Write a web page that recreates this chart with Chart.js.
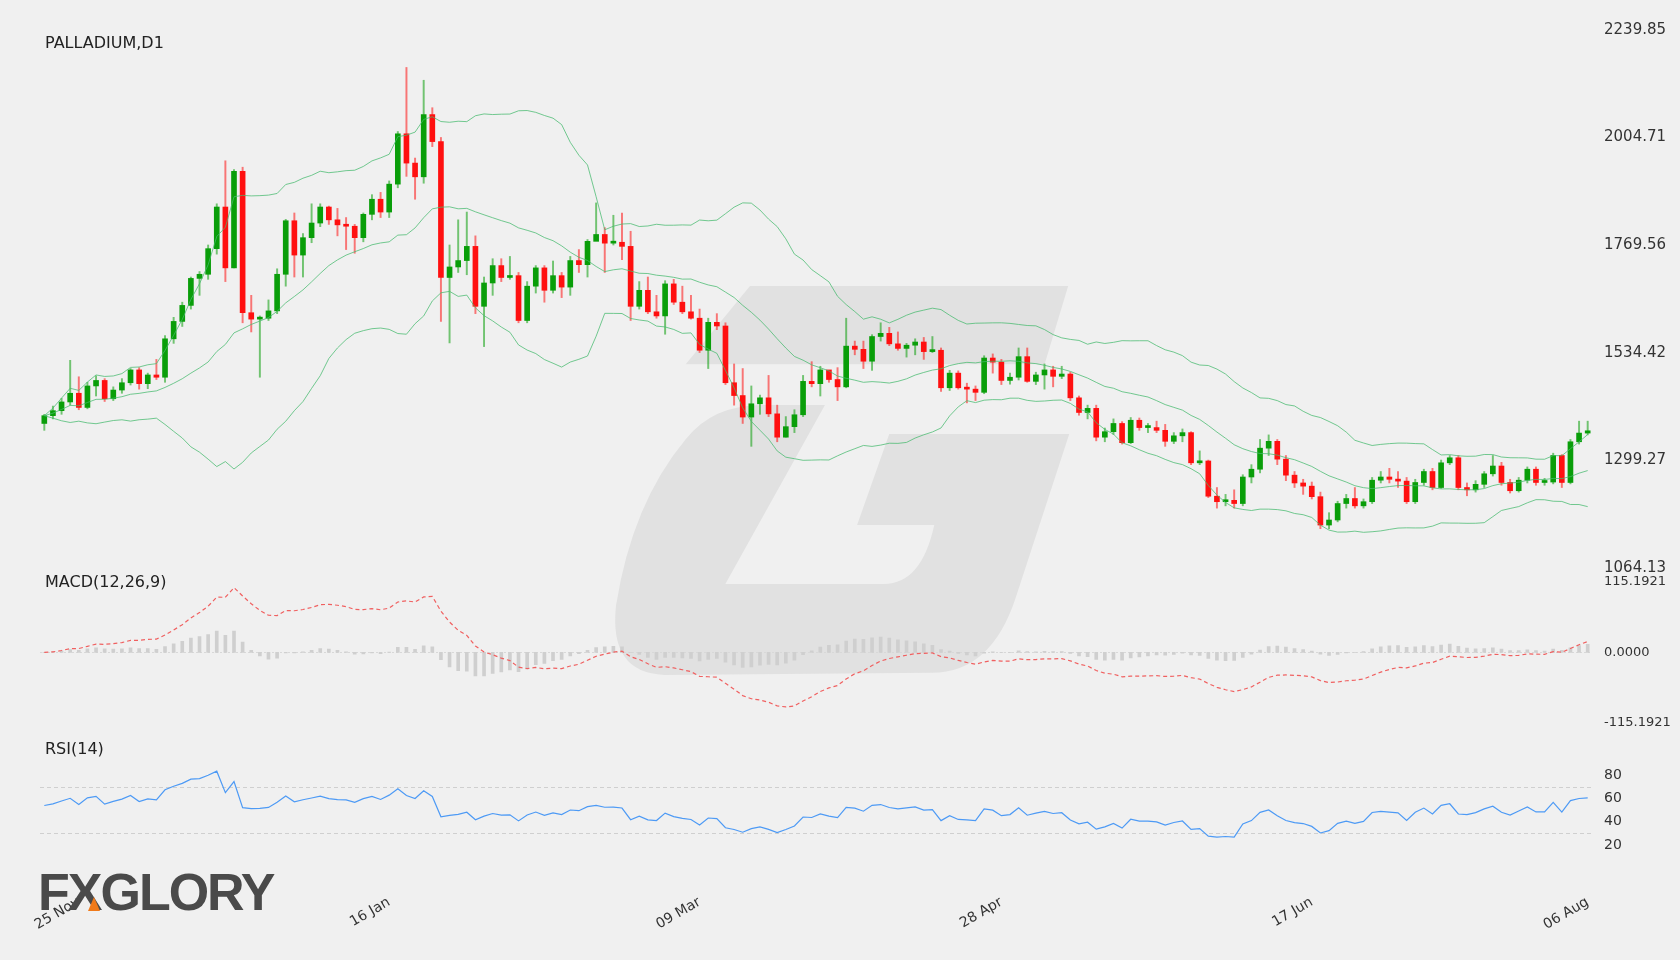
<!DOCTYPE html>
<html><head><meta charset="utf-8">
<script src="https://cdn.jsdelivr.net/npm/chart.js@4.4.1/dist/chart.umd.min.js"></script>
<style>
body{margin:0;background:#f0f0f0;width:1680px;height:960px;overflow:hidden;position:relative;font-family:"DejaVu Sans",sans-serif}
canvas{position:absolute;left:0}
.lbl{position:absolute;left:45px;font-size:16px;color:#222}
#logo{position:absolute;left:38px;top:862px;font-family:"Liberation Sans",Arial,sans-serif;font-weight:bold;font-size:52px;color:#4a4a4a;letter-spacing:-2px}
#tri{position:absolute;left:88px;top:897px;width:0;height:0;border-left:6px solid transparent;border-right:6px solid transparent;border-bottom:14px solid #f07a1a}
</style></head><body>
<canvas id="wm" width="1680" height="960" style="top:0"></canvas>
<canvas id="c1" width="1680" height="600" style="top:0"></canvas>
<canvas id="c2" width="1680" height="170" style="top:570px"></canvas>
<canvas id="c3" width="1680" height="220" style="top:740px"></canvas>
<div class="lbl" style="top:33px">PALLADIUM,D1</div>
<div class="lbl" style="top:572px">MACD(12,26,9)</div>
<div class="lbl" style="top:739px">RSI(14)</div>
<div id="logo">FXGLORY</div><div id="tri"></div>
<script>
const firstOpen = 1380;
const closes = [1397,1408,1427,1446,1415,1462,1474,1434,1453,1469,1497,1467,1486,1481,1565,1603,1638,1697,1706,1762,
1853,1720,1931,1622,1608,1610,1626,1706,1823,1748,1786,1818,1853,1825,1814,1811,1786,1837,1870,1842,
1903,2013,1949,1919,2055,1996,1699,1722,1736,1767,1636,1687,1725,1699,1703,1605,1680,1720,1671,1703,
1678,1736,1727,1778,1793,1774,1776,1767,1636,1671,1624,1615,1685,1645,1624,1610,1540,1601,1593,1469,
1441,1394,1423,1436,1401,1350,1373,1399,1472,1467,1497,1476,1460,1549,1542,1516,1570,1577,1554,1544,
1551,1558,1537,1540,1458,1490,1458,1455,1448,1523,1514,1474,1481,1526,1472,1486,1497,1483,1488,1436,
1404,1413,1350,1362,1380,1338,1387,1371,1371,1365,1341,1353,1360,1294,1298,1221,1209,1212,1205,1263,
1280,1326,1341,1302,1267,1250,1243,1220,1158,1169,1205,1216,1200,1209,1256,1263,1258,1254,1209,1251,
1275,1240,1294,1305,1240,1235,1247,1270,1287,1251,1233,1256,1280,1251,1252,1310,1251,1340,1359,1364];
const highs = [1400,1418,1435,1518,1482,1470,1484,1478,1460,1478,1500,1502,1490,1520,1572,1612,1645,1700,1712,1770,
1860,1954,1935,1940,1660,1615,1650,1718,1826,1840,1795,1860,1860,1855,1850,1830,1815,1840,1880,1885,
1910,2018,2158,1960,2130,2070,2005,1770,1825,1842,1790,1700,1740,1740,1745,1710,1690,1725,1725,1735,
1710,1745,1760,1782,1862,1808,1835,1840,1800,1690,1700,1660,1692,1695,1680,1660,1630,1610,1620,1600,
1510,1500,1462,1442,1485,1420,1395,1410,1485,1515,1505,1488,1502,1610,1560,1560,1574,1600,1590,1580,
1555,1565,1568,1570,1545,1496,1495,1468,1462,1528,1532,1520,1490,1545,1545,1492,1510,1505,1505,1492,
1440,1420,1420,1370,1390,1384,1393,1392,1380,1385,1378,1360,1368,1362,1320,1300,1240,1225,1235,1268,
1290,1345,1355,1345,1310,1275,1258,1252,1230,1185,1210,1225,1240,1215,1262,1275,1282,1275,1262,1258,
1280,1282,1300,1310,1310,1250,1255,1275,1310,1295,1258,1262,1285,1285,1260,1315,1312,1345,1385,1385];
const lows = [1365,1390,1400,1420,1410,1412,1440,1428,1430,1446,1464,1455,1456,1476,1470,1555,1592,1630,1660,1695,
1750,1690,1720,1600,1580,1481,1605,1620,1680,1700,1700,1775,1810,1815,1790,1760,1752,1777,1825,1830,
1830,1895,1920,1870,1905,1985,1603,1556,1710,1705,1620,1548,1660,1690,1695,1600,1600,1665,1645,1665,
1655,1660,1710,1700,1780,1710,1770,1738,1605,1630,1620,1610,1575,1640,1620,1608,1535,1500,1585,1465,
1420,1380,1330,1400,1395,1340,1350,1360,1395,1460,1440,1470,1430,1458,1530,1500,1496,1560,1550,1540,
1525,1530,1520,1535,1450,1452,1455,1425,1430,1445,1490,1465,1466,1475,1470,1465,1455,1460,1478,1430,
1398,1390,1342,1340,1356,1335,1336,1365,1360,1360,1330,1336,1340,1290,1290,1218,1195,1200,1195,1200,
1250,1272,1310,1290,1255,1240,1225,1215,1150,1150,1165,1195,1195,1195,1205,1250,1250,1240,1205,1205,
1245,1235,1238,1290,1235,1222,1230,1240,1265,1245,1228,1230,1250,1245,1245,1248,1240,1248,1335,1355];
const tickIdx = [4,40,76,111,147,179];
const tickText = ["25 Nov","16 Jan","09 Mar","28 Apr","17 Jun","06 Aug"];
const priceTicks = [1064.13,1299.27,1534.42,1769.56,2004.71,2239.85];
const macdTicks = [-115.1921,0,115.1921];
const rsiTicks = [20,40,60,80];
const rsiSeedGain = 14, rsiSeedLoss = 13;

const N = closes.length;
const opens = closes.map((c,i)=> i===0 ? firstOpen : closes[i-1]);
const labels = closes.map((_,i)=>i);
const mid=[],up=[],lo=[];
for(let i=0;i<N;i++){const s=Math.max(0,i-19);const w=closes.slice(s,i+1);const m=w.reduce((a,b)=>a+b,0)/w.length;
 const sd=Math.sqrt(w.reduce((a,b)=>a+(b-m)*(b-m),0)/w.length);mid.push(m);up.push(m+2*sd);lo.push(m-2*sd);}
function ema(arr,p){const k=2/(p+1);const o=[];arr.forEach((v,i)=>o.push(i===0?v:v*k+o[i-1]*(1-k)));return o;}
const e12=ema(closes,12),e26=ema(closes,26);const macd=e12.map((v,i)=>v-e26[i]);const sig=ema(macd,9);const hist=macd.map((v,i)=>v-sig[i]);
const rsi=[];let ag=rsiSeedGain,al=rsiSeedLoss;
for(let i=0;i<N;i++){const d=closes[i]-(i===0?firstOpen:closes[i-1]);const g=Math.max(d,0),l=Math.max(-d,0);
 ag=(ag*13+g)/14;al=(al*13+l)/14;rsi.push(100-100/(1+ag/al));}

(function(){const c=document.getElementById('wm').getContext('2d');c.scale(1.0714,1.0714);c.fillStyle='#e1e1e1';
 c.beginPath();c.moveTo(700,267);c.lineTo(997,267);c.lineTo(975,340);c.lineTo(640,340);c.closePath();c.fill();
 c.beginPath();c.moveTo(712,378);c.lineTo(770,378);c.lineTo(677,545);c.lineTo(825,545);c.quadraticCurveTo(860,545,872,490);
 c.lineTo(800,490);c.lineTo(830,405);c.lineTo(998,405);c.lineTo(948,558);c.quadraticCurveTo(925,628,870,628);c.lineTo(620,630);
 c.quadraticCurveTo(568,628,575,565);c.quadraticCurveTo(590,470,640,410);c.quadraticCurveTo(665,378,712,378);c.closePath();c.fill();})();

const G='#0a9e0a',R='#ff1010';
const col=closes.map((c,i)=>c>=opens[i]?G:R);
const wcol=closes.map((c,i)=>c>=opens[i]?'rgba(10,158,10,0.55)':'rgba(255,16,16,0.55)');
function xAxis(show){return {type:'category',offset:true,display:show,grid:{display:false},border:{display:false},
 ticks:{autoSkip:false,maxRotation:30,minRotation:30,color:'#333',font:{size:14,family:'DejaVu Sans'},padding:18,
 callback:(v,i)=>{const k=tickIdx.indexOf(i);return k>=0?tickText[k]:'';}},
 afterFit:s=>{if(show)s.height=92;}};}
function yAxis(min,max,ticks,fmt,size){return {position:'right',min,max,grid:{display:false},border:{display:false},
 afterBuildTicks:s=>{s.ticks=ticks.map(v=>({value:v}));},afterFit:s=>{s.width=88;},
 ticks:{color:'#333',padding:4,font:{size:size,family:'DejaVu Sans'},callback:fmt}};}
const base={responsive:false,animation:false,devicePixelRatio:1,plugins:{legend:{display:false},tooltip:{enabled:false}}};
const hline=(vals,color,dash)=>({id:'hl',beforeDatasetsDraw(ch){const c=ch.ctx,a=ch.chartArea,y=ch.scales.y;c.save();c.strokeStyle=color;c.lineWidth=1;c.setLineDash(dash);
 vals.forEach(v=>{const p=Math.round(y.getPixelForValue(v))+0.5;c.beginPath();c.moveTo(a.left,p);c.lineTo(a.right,p);c.stroke();});c.restore();}});
const bandStyle={type:'line',borderColor:'rgba(70,185,110,0.75)',borderWidth:1,pointRadius:0,tension:0};
new Chart(document.getElementById('c1'),{type:'bar',data:{labels,datasets:[
 {...bandStyle,data:up},{...bandStyle,data:mid},{...bandStyle,data:lo},
 {data:lows.map((l,i)=>[l,highs[i]]),backgroundColor:wcol,barThickness:1.3,grouped:false},
 {data:opens.map((o,i)=>[o,closes[i]]),backgroundColor:col,barThickness:5,grouped:false,minBarLength:2}]},
 options:{...base,layout:{padding:{left:40,top:30,bottom:32,right:0}},scales:{x:xAxis(false),y:yAxis(1064.13,2239.85,priceTicks,v=>v.toFixed(2),15)}}});
new Chart(document.getElementById('c2'),{type:'bar',data:{labels,datasets:[
 {type:'line',data:macd,borderColor:'#f06060',borderWidth:1.2,borderDash:[4,3],pointRadius:0},
 {data:hist,backgroundColor:'#cfcfcf',barThickness:3,grouped:false}]},
 options:{...base,layout:{padding:{left:40,top:9,bottom:17,right:0}},scales:{x:xAxis(false),y:yAxis(-115.1921,115.1921,macdTicks,v=>v.toFixed(4),13)}},
 plugins:[hline([0],'#d8d8d8',[2,2])]});
new Chart(document.getElementById('c3'),{type:'line',data:{labels,datasets:[
 {data:rsi,borderColor:'#4d9af5',borderWidth:1.2,pointRadius:0,tension:0}]},
 options:{...base,layout:{padding:{left:40,top:3,bottom:0,right:0}},scales:{x:xAxis(true),y:yAxis(0,100,rsiTicks,v=>String(v),14)}},
 plugins:[hline([70,30],'#cfcfcf',[4,3])]});
</script></body></html>
